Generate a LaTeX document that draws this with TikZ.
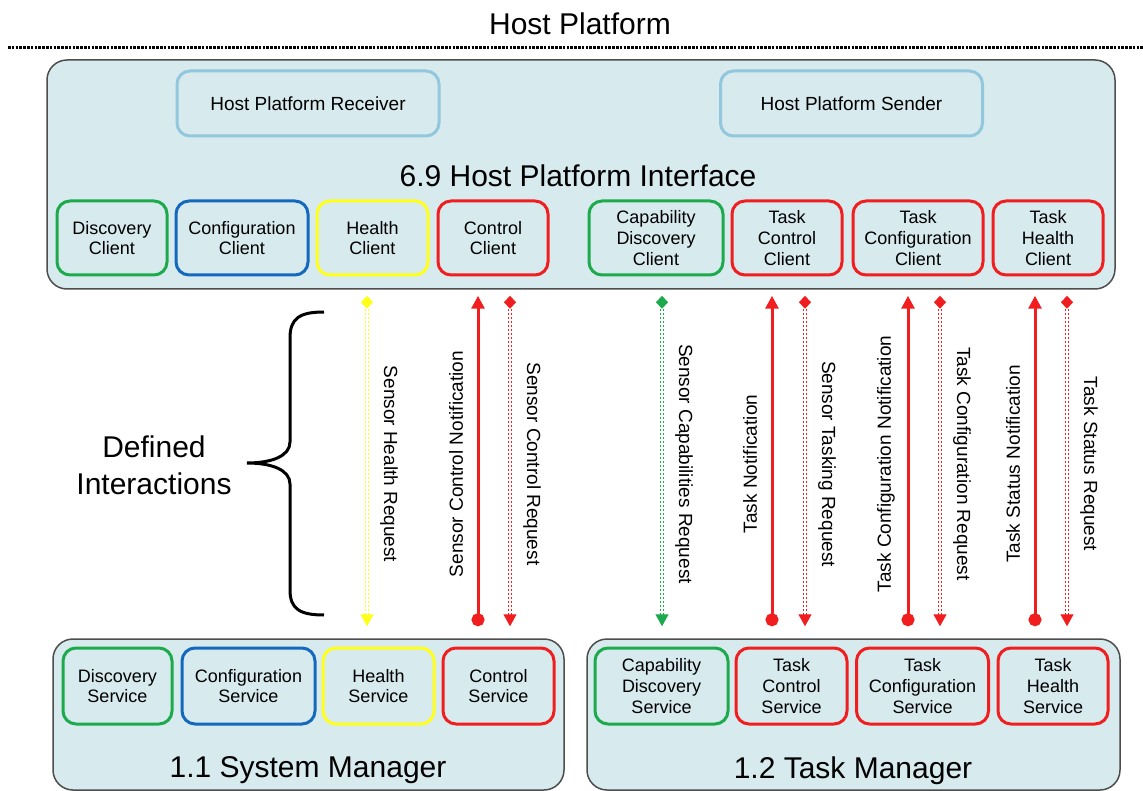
\documentclass[tikz,border=0pt]{standalone}
\usepackage{fontspec}
\setmainfont{Liberation Sans}
\usetikzlibrary{arrows.meta}

\definecolor{panelfill}{HTML}{D7EAEE}
\definecolor{panelline}{HTML}{4D4D4D}
\definecolor{hostline}{HTML}{93C7DD}
\definecolor{discgreen}{HTML}{1DAA4C}
\definecolor{confblue}{HTML}{1469BE}
\definecolor{healthyellow}{HTML}{FFFF1A}
\definecolor{ctrlred}{HTML}{F01E1E}

\newcommand\bigfont{\fontsize{30}{37}\selectfont}
\newcommand\midfont{\fontsize{19}{22}\selectfont}
\newcommand\boxfont{\fontsize{18}{20.8}\selectfont}

\begin{document}
\begin{tikzpicture}[x=1pt, y=-1pt,
  panel/.style={draw=panelline, fill=panelfill, line width=1.5pt, rounded corners=20pt, inner sep=0pt},
  hostbox/.style={draw=hostline, fill=panelfill, line width=3pt, rounded corners=13pt,
    minimum width=262pt, minimum height=65pt, font=\midfont},
  unit/.style={draw=#1, fill=panelfill, line width=3pt, rounded corners=13pt,
    align=center, font=\boxfont, inner sep=0pt},
  request/.style={draw=#1, line width=1.4pt, double=white, double distance=1.4pt,
    dash pattern=on 2.5pt off 1.5pt, shorten <=6pt, shorten >=12pt,
    arrows={Diamond[width=12pt,length=13pt]-Triangle[width=13pt,length=12pt]}},
  notify/.style={draw=ctrlred, line width=3pt, shorten <=6pt, shorten >=12pt,
    arrows={Triangle[width=13pt,length=13pt]-Circle[length=13pt]}},
  tag/.style={font=\midfont, midway}]
  \useasboundingbox (0,0) rectangle (1143,791);

  \node[font=\bigfont] (title) at (580,24) {Host Platform};
  \coordinate (sepl) at (8,48);
  \coordinate (sepr) at (1143,48);
  \draw[line width=3pt, dash pattern=on 2.5pt off 1.3pt] (sepl) -- (sepr);

  % panels
  \node[panel, minimum width=1068pt, minimum height=229pt] (host) at (581,174.5) {};
  \node[panel, minimum width=511pt, minimum height=151pt] (sysm) at (308.5,714.5) {};
  \node[panel, minimum width=533pt, minimum height=151pt] (tskm) at (853.5,714.5) {};

  \node[font=\bigfont] (hpi) at (578,176) {6.9 Host Platform Interface};
  \node[font=\bigfont] (smlab) at (308,770) {1.1 System Manager};
  \node[font=\bigfont] (tmlab) at (853,771) {1.2 Task Manager};

  \node[hostbox] (hprx) at (308,103.5) {Host Platform Receiver};
  \node[hostbox] (hptx) at (851.5,103.5) {Host Platform Sender};

  % clients
  \foreach \nm/\cx/\bw/\col/\txt in {
    dcl/112/110/discgreen/{Discovery\\Client},
    ccl/242/132/confblue/{Configuration\\Client},
    hcl/372.5/111/healthyellow/{Health\\Client},
    kcl/493/110/ctrlred/{Control\\Client},
    cdcl/656/134/discgreen/{Capability\\Discovery\\Client},
    tccl/787/110/ctrlred/{Task\\Control\\Client},
    tfcl/918/130/ctrlred/{Task\\Configuration\\Client},
    thcl/1048/110/ctrlred/{Task\\Health\\Client}} {
    \node[unit=\col, minimum width=\bw pt, minimum height=74pt] (\nm) at (\cx,238) {\txt};
  }

  % services
  \foreach \nm/\cx/\bw/\col/\txt in {
    dsv/117.5/109/discgreen/{Discovery\\Service},
    csv/248.5/133/confblue/{Configuration\\Service},
    hsv/378.5/111/healthyellow/{Health\\Service},
    ksv/498.5/111/ctrlred/{Control\\Service},
    cdsv/661.5/133/discgreen/{Capability\\Discovery\\Service},
    tcsv/791.5/111/ctrlred/{Task\\Control\\Service},
    tfsv/922.5/132/ctrlred/{Task\\Configuration\\Service},
    thsv/1053/110/ctrlred/{Task\\Health\\Service}} {
    \node[unit=\col, minimum width=\bw pt, minimum height=76pt] (\nm) at (\cx,686) {\txt};
  }

  % requests
  \foreach \nm/\lx/\col/\dst/\txt in {
    shr/367/healthyellow/sysm/{Sensor Health Request},
    scr/510/ctrlred/sysm/{Sensor Control Request},
    scapr/662/discgreen/tskm/{Sensor Capabilities Request},
    str/805/ctrlred/tskm/{Sensor Tasking Request},
    tcr/940/ctrlred/tskm/{Task Configuration Request},
    tsr/1067/ctrlred/tskm/{Task Status Request}} {
    \coordinate (\nm) at (\lx,0);
    \draw[request=\col] (\nm |- host.south) -- (\nm |- \dst.north)
      node[tag, xshift=22pt, rotate=-90] {\txt};
  }

  % notifications
  \foreach \nm/\lx/\dst/\txt in {
    scn/478/sysm/{Sensor Control Notification},
    tkn/772/tskm/{Task Notification},
    tcn/908/tskm/{Task Configuration Notification},
    tsn/1035/tskm/{Task Status Notification}} {
    \coordinate (\nm) at (\lx,0);
    \draw[notify] (\nm |- host.south) -- (\nm |- \dst.north)
      node[tag, xshift=-22pt, rotate=90] {\txt};
  }

  % brace
  \draw[line width=3pt] (324,312) .. controls (300,312) and (290,318) .. (290,338)
    -- (290,442) .. controls (290,456) and (272,463) .. (247,463)
    .. controls (272,463) and (290,470) .. (290,484)
    -- (290,590) .. controls (290,609) and (300,615) .. (324,615);
  \node[font=\bigfont, align=center] (defint) at (154,465) {Defined\\Interactions};
\end{tikzpicture}
\end{document}
